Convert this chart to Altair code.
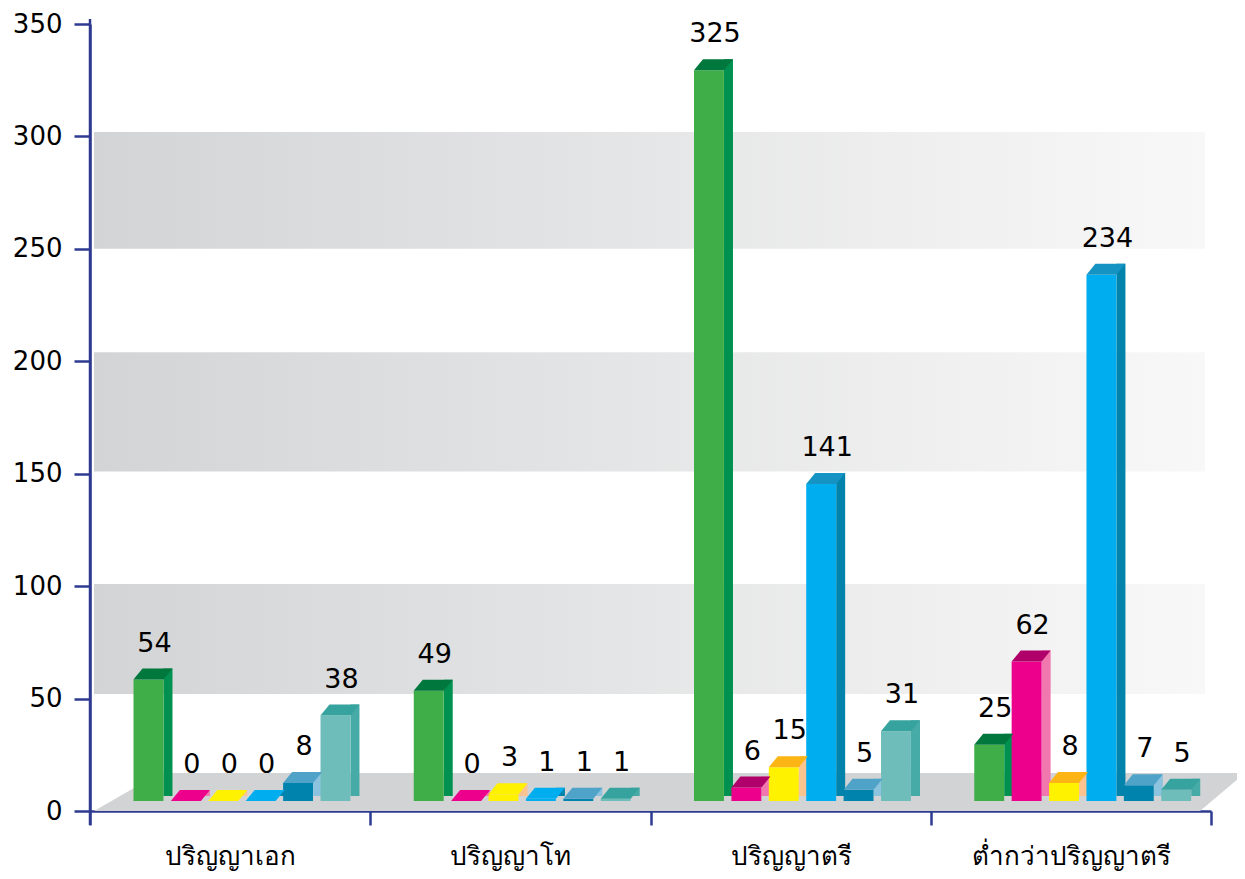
import altair as alt
import pandas as pd

# ---- data ----
categories = ["ปริญญาเอก", "ปริญญาโท", "ปริญญาตรี", "ต่ำกว่าปริญญาตรี"]
series = ["ชุด 1", "ชุด 2", "ชุด 3", "ชุด 4", "ชุด 5", "ชุด 6"]
values_phd = [54, 0, 0, 0, 8, 38]
values_master = [49, 0, 3, 1, 1, 1]
values_bachelor = [325, 6, 15, 141, 5, 31]
values_below = [25, 62, 8, 234, 7, 5]
y_ticks = [0, 50, 100, 150, 200, 250, 300, 350]
band_low = [52, 151, 250]
band_high = [101, 204, 302]

# ---- styles ----
front_colors = ["#3FAE49", "#EC008C", "#FFF200", "#00AEEF", "#0083AD", "#6FBDBB"]
top_colors = ["#00773C", "#B0006A", "#FDB515", "#1593C2", "#4FA3C8", "#36A39F"]
flat_colors = ["#00773C", "#EC008C", "#FFF200", "#00AEEF", "#4FA3C8", "#36A39F"]
side_colors = ["#009150", "#F177AF", "#F9C48F", "#0283AB", "#8CC3DF", "#46AAA7"]
AXIS_COLOR = "#2E3A8F"
W, H = 1121, 787

rows = []
for cat, vals in zip(categories, [values_phd, values_master, values_bachelor, values_below]):
    for s, v in zip(series, vals):
        rows.append({"cat": cat, "series": s, "value": v})
df = pd.DataFrame(rows)
bands = pd.DataFrame({"lo": band_low, "hi": band_high})

x_axis = alt.Axis(title=None, tickBand="extent", labelAngle=0, domainColor=AXIS_COLOR,
                  domainWidth=2.5, tickColor=AXIS_COLOR, tickWidth=2.5, tickSize=14,
                  labelFontSize=26, labelPadding=18, labelColor="#000000", labelLimit=0,
                  labelFont="Noto Sans")
y_axis = alt.Axis(title=None, values=y_ticks, domainColor=AXIS_COLOR, domainWidth=2.5,
                  tickColor=AXIS_COLOR, tickWidth=2.5, tickSize=16, labelFontSize=26,
                  labelPadding=12, labelColor="#000000", grid=False, labelFont="DejaVu Sans")

X = alt.X("cat:N", sort=categories,
          scale=alt.Scale(type="band", paddingInner=0, paddingOuter=0), axis=x_axis)
Y = alt.Y("value:Q", scale=alt.Scale(domain=[0, 350], nice=False), axis=y_axis)

def xo(align):
    return alt.XOffset("series:N", sort=series,
                       scale=alt.Scale(type="band", domain=series, paddingInner=0.2,
                                       paddingOuter=0.8466, align=align))

XO_FRONT = xo(0.687)
XO_SIDE = xo(0.995)

def col(rng):
    return alt.Color("series:N", sort=series, scale=alt.Scale(domain=series, range=rng), legend=None)

# background bands
band_layer = alt.Chart(bands).mark_rect(
    fill=alt.Gradient(gradient="linear", x1=0, x2=1, y1=0, y2=0,
                      stops=[alt.GradientStop(color="#D3D4D6", offset=0),
                             alt.GradientStop(color="#F8F8F8", offset=1)])
).encode(
    x=alt.value(4), x2=alt.value(W - 6),
    y=alt.Y("lo:Q", scale=alt.Scale(domain=[0, 350], nice=False), axis=y_axis),
    y2="hi:Q",
)

floor_path = "M -0.9633 0.0317 L -0.853 -0.0317 L 0.955 -0.0317 L 0.88 0.0317 Z"
floor = alt.Chart(pd.DataFrame({"f": [0]})).mark_point(
    shape=floor_path, size=1440000, filled=True, opacity=1, color="#D1D3D4", strokeWidth=0
).encode(x=alt.value(582), y=alt.value(H - 19))

side = alt.Chart(df).mark_bar(width=9, yOffset=-21, y2Offset=-15).encode(
    x=X, xOffset=XO_SIDE, y=Y, y2=alt.datum(0), color=col(side_colors)
)
front = alt.Chart(df).mark_bar(yOffset=-10, y2Offset=-10).encode(
    x=X, xOffset=XO_FRONT, y=Y, y2=alt.datum(0), color=col(front_colors)
)
top_path = "M -0.6 0 L -0.24 -0.44 L 0.96 -0.44 L 0.6 0 Z"
top = alt.Chart(df).transform_filter("datum.value > 3").mark_point(
    shape=top_path, size=2500, filled=True, opacity=1, strokeWidth=0, yOffset=-10
).encode(x=X, xOffset=XO_FRONT, y=Y, color=col(top_colors))
flat = alt.Chart(df).transform_filter("datum.value <= 3").mark_point(
    shape=top_path, size=2500, filled=True, opacity=1, strokeWidth=0, yOffset=-10
).encode(x=X, xOffset=XO_FRONT, y=Y, color=col(flat_colors))

labels = alt.Chart(df).mark_text(
    dx=6, dy=-38, baseline="alphabetic", fontSize=27, font="DejaVu Sans", color="#000000"
).encode(x=X, xOffset=XO_FRONT, y=Y, text=alt.Text("value:Q"))

yext = alt.Chart(pd.DataFrame({"r": [0]})).mark_rule(color=AXIS_COLOR, strokeWidth=2.5).encode(
    x=alt.value(0), y=alt.value(-5), y2=alt.value(H + 14)
)

chart = alt.layer(band_layer, floor, side, front, top, flat, labels, yext).resolve_scale(
    color="independent", xOffset="independent"
).properties(
    width=W, height=H, background="#FFFFFF",
    autosize=alt.AutoSizeParams(type="none"),
    padding={"left": 82, "top": 16, "right": 26, "bottom": 63},
).configure_view(stroke=None)

chart.save("out.html", embed_options={"renderer": "svg", "actions": False})
